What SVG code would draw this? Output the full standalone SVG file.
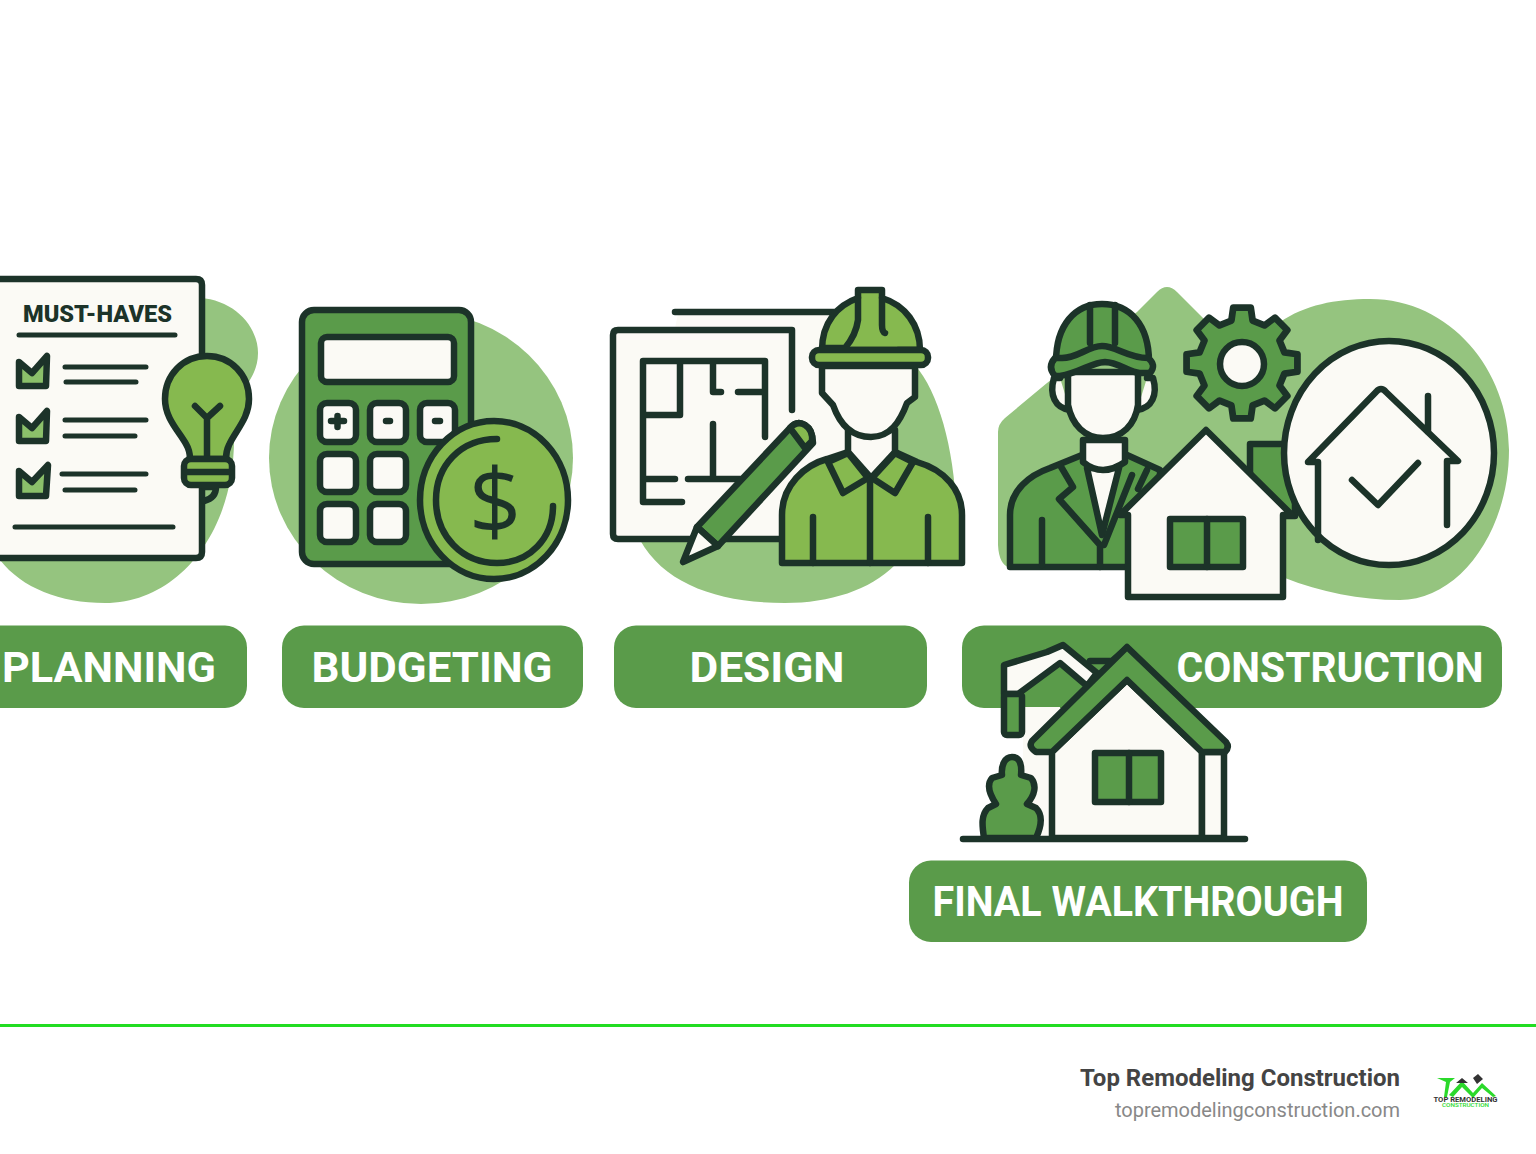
<svg xmlns="http://www.w3.org/2000/svg" width="1536" height="1154" viewBox="0 0 1536 1154">
<style>
.blob{fill:#95c47f}
.o{stroke:#1c3329;stroke-width:6.5;stroke-linejoin:round;stroke-linecap:round}
.l{fill:none;stroke:#1c3329;stroke-width:6.5;stroke-linejoin:round;stroke-linecap:round}
.t{fill:none;stroke:#1c3329;stroke-width:5;stroke-linecap:round}
.cream{fill:#fbfaf5}
.mid{fill:#5a9b4a}
.light{fill:#86b94f}
.pill{fill:#5a9b4a}
.lab{font-family:Roboto,"Liberation Sans",sans-serif;font-weight:700;font-size:42px;fill:#fff;text-anchor:middle}
</style>
<rect width="1536" height="1154" fill="#fff"/>

<g id="planning">
<path class="blob" d="M200 298C234 300 258 326 258 353C258 370 250 378 246 388L234 440C234 530 180 603 105 603C60 603 22 588 0 560V298Z"/>
<path class="o cream" d="M-6 279H196Q202 279 202 285V552Q202 558 196 558H-6Z"/>
<text x="97.500" y="322" font-family="Roboto,'Liberation Sans',sans-serif" font-weight="900" font-size="24" fill="#1c3329" text-anchor="middle" textLength="149" lengthAdjust="spacingAndGlyphs">MUST-HAVES</text>
<path class="t" d="M19 335H175M65 367H146M66 382H136M65 420H146M65 436H135M62 474H146M65 490H135M15 527H173"/>
<path class="o" fill="#8bc06a" d="M19 362L32 373L47 356L46 386H19Z"/>
<path class="o" fill="#8bc06a" d="M19 417L32 428L47 411L46 441H19Z"/>
<path class="o" fill="#8bc06a" d="M19 471L32 482L48 465L46 496H19Z"/>
<path class="o light" d="M207 356C231 356 249 375 249 399C249 418 236 430 229 445C226 451 226 456 226 459H190C190 454 189 449 186 444C178 430 165 418 165 399C165 375 183 356 207 356Z"/>
<path class="l" d="M195 406L207 418L220 406M207 418V458"/>
<path class="l" d="M204 487H216Q216 498 204 501"/>
<rect class="o light" x="184" y="459" width="48" height="26" rx="7"/>
<path class="l" d="M186 472H230"/>
</g>

<g id="budgeting">
<ellipse class="blob" cx="421" cy="458" rx="152" ry="146"/>
<rect class="o mid" x="302" y="310" width="169" height="254" rx="12"/>
<rect class="o cream" x="321" y="337" width="133" height="45" rx="6"/>
<rect class="o cream" x="320" y="403" width="36" height="39" rx="7"/>
<rect class="o cream" x="370" y="403" width="36" height="39" rx="7"/>
<rect class="o cream" x="420" y="403" width="35" height="39" rx="7"/>
<rect class="o cream" x="320" y="454" width="36" height="38" rx="7"/>
<rect class="o cream" x="370" y="454" width="36" height="38" rx="7"/>
<rect class="o cream" x="320" y="504" width="36" height="38" rx="7"/>
<rect class="o cream" x="370" y="504" width="36" height="38" rx="7"/>
<path class="l" d="M331 421H344M337.500 416V427M386 421H390M435 421H440"/>
<ellipse class="o light" cx="494" cy="500" rx="74" ry="79"/>
<path class="l" d="M497 439C460 439 436 466 436 500C436 536 462 563 497 563C530 563 553 538 553 506"/>
<text x="495" y="534" font-family="'Open Sans',Roboto,sans-serif" font-weight="400" font-size="92" fill="#1c3329" text-anchor="middle">$</text>
</g>

<g id="design">
<path class="blob" d="M640 540C665 585 720 603 785 603C830 603 870 590 895 565L955 565C962 480 945 400 915 365L720 330Z"/>
<path class="cream" d="M678 314H835V360H880V470H840V540H612V328H675Z"/>
<path class="l" d="M675 312H835"/>
<path class="l" d="M792 410V330H618Q613 330 613 335V534Q613 539 618 539H785"/>
<path class="l" d="M765 437V361H643V502H682M680 361V415H643M713 361V392H721M738 392H765M713 424V479M645 479H675M688 479H740"/>
<path class="o mid" d="M697 527L718 546L813 443Q813 430 805 425Q797 420 790 428Z"/>
<path class="o light" d="M790 428Q797 420 805 425Q813 430 812 441L805 448Z"/>
<path class="o cream" d="M697 527L718 546L683 562Z"/>
<path class="o light" d="M782 563V515C782 485 805 465 827 459L848 452L870 478L895 452L917 462C945 470 962 490 962 515V563Z"/>
<path class="o cream" d="M848 452V430H895V452L871 478Z"/>
<path class="o light" d="M828 462L848 453L868 478L843 493Z"/>
<path class="o light" d="M872 478L895 453L913 462L895 493Z"/>
<path class="l" d="M870 480V563M813 517V563M928 517V563"/>
<path class="o cream" d="M822 366V393L833 405C840 425 852 437 871 437C890 437 900 422 907 403L915 397V366Z"/>
<path class="o light" d="M822 350C822 322 838 305 858 298V290H882V298C905 305 920 325 920 350Z"/>
<path class="l" d="M858 298V320Q856 335 845 348H822M882 298V325Q882 332 885 333M898 350H920"/>
<rect class="o light" x="812" y="350" width="116" height="15" rx="7"/>
</g>

<g id="construction">
<path class="blob" d="M998 432V545Q999 565 1010 568H1285V578C1320 592 1360 600 1400 600C1460 600 1509 530 1509 450C1509 370 1450 299 1370 299C1335 299 1305 305 1280 322L1207 322L1177 292Q1167 282 1157 292L1137 312L1047 383L1005 418Q998 424 998 432Z"/>
<path class="o mid" d="M1010 567V515C1010 490 1030 475 1050 468L1082 455H1127L1160 470V567Z"/>
<path class="o cream" d="M1087 468L1102 535L1119 468Z"/>
<path class="o cream" d="M1083 440V462Q1102 478 1125 462V440Z"/>
<path class="l" d="M1060 465L1073 487L1059 499L1100 545V567M1132 475L1104 545M1147 470L1138 489M1042 520V565"/>
<path class="o cream" d="M1060 378H1054C1049 395 1055 408 1070 410M1147 378H1153C1158 395 1152 408 1137 410"/>
<path class="o cream" d="M1068 372V405C1072 425 1085 438 1103 438C1122 438 1135 425 1138 405V372Z"/>
<path class="o mid" d="M1056 362C1056 325 1075 304 1102 304C1130 304 1149 325 1149 362Z"/>
<path class="l" d="M1090 305V343M1115 305V343"/>
<path class="o mid" d="M1055 358H1062C1078 358 1088 346 1102 346C1116 346 1128 358 1148 358Q1157 365 1150 373H1140C1130 373 1118 362 1105 362C1092 362 1080 373 1060 376H1055Q1047 367 1055 358Z"/>
<polygon class="o mid" stroke-width="7" transform="translate(1242 363) scale(1.04)" points="40.8,-10.2 53.3,-8.400 53.3,8.400 40.8,10.200 36.100,21.600 43.600,31.700 31.700,43.600 21.600,36.100 10.200,40.800 8.400,53.300 -8.400,53.300 -10.200,40.800 -21.600,36.100 -31.700,43.600 -43.600,31.700 -36.100,21.600 -40.800,10.200 -53.300,8.400 -53.300,-8.400 -40.800,-10.200 -36.100,-21.600 -43.600,-31.700 -31.700,-43.600 -21.600,-36.100 -10.200,-40.800 -8.400,-53.300 8.400,-53.300 10.200,-40.800 21.600,-36.100 31.700,-43.600 43.600,-31.700 36.100,-21.600"/>
<circle class="o cream" cx="1242" cy="364" r="22"/>
<path class="o mid" d="M1250 444H1295V516H1250Z"/>
<path class="o cream" d="M1128 597V515H1120L1206 430L1292 515H1283V597Z"/>
<rect class="o mid" x="1170" y="519" width="73" height="48"/>
<path class="l" d="M1207 519V567"/>
<ellipse class="o cream" cx="1389" cy="453" rx="105" ry="112"/>
<path class="l" d="M1318 540V462H1308L1376 392Q1381 386 1386 392L1458 461H1447V525M1428 396V432"/>
<path class="l" stroke-width="8" d="M1352 480L1378 505L1418 463"/>
</g>

<g id="labels">
<rect class="pill" x="-40" y="625.500" width="287" height="82.500" rx="22"/>
<rect class="pill" x="282" y="625.500" width="301" height="82.500" rx="22"/>
<rect class="pill" x="614" y="625.500" width="313" height="82.500" rx="22"/>
<rect class="pill" x="962" y="625.500" width="540" height="82.500" rx="22"/>
<rect class="pill" x="909" y="860.500" width="458" height="81.500" rx="22"/>
<text class="lab" x="109" y="682" textLength="214" lengthAdjust="spacingAndGlyphs">PLANNING</text>
<text class="lab" x="432" y="682" textLength="241" lengthAdjust="spacingAndGlyphs">BUDGETING</text>
<text class="lab" x="767" y="682" textLength="155" lengthAdjust="spacingAndGlyphs">DESIGN</text>
<text class="lab" x="1330" y="682" textLength="307" lengthAdjust="spacingAndGlyphs">CONSTRUCTION</text>
<text class="lab" x="1138" y="916" textLength="411" lengthAdjust="spacingAndGlyphs">FINAL WALKTHROUGH</text>
</g>

<g id="final-walkthrough">
<path class="cream" d="M1023 707H1060V838H1023Z"/>
<path class="o cream" d="M1004 665L1047 652L1063 645L1097 673L1087 686L1060 663L1018 694H1004Z"/>
<rect class="o mid" x="1004" y="694" width="18" height="41" rx="3"/>
<path class="l" d="M1090 661H1112L1127 648"/>
<path class="cream o" d="M1052 752L1127 680L1202 752V838H1052Z"/>
<path class="o cream" d="M1202 752H1224V838H1202Z"/>
<path class="o mid" d="M1127 647L1226 742Q1230 747 1225 752H1202L1127 680L1052 752H1036Q1028 747 1032 741Z"/>
<rect class="o mid" x="1095" y="753" width="66" height="49"/>
<path class="l" d="M1129 753V802"/>
<path class="o mid" d="M984 838C982 825 981 815 988 808L996 804C990 795 986 785 992 778L1002 775C1001 765 1005 757 1012 757C1020 757 1022 765 1021 775L1031 778C1037 785 1035 795 1027 804L1036 808C1043 815 1042 825 1036 838Z"/>
<path class="l" d="M963 839H1245"/>
</g>

<g id="footer">
<path d="M0 1025.500H1536" stroke="#22dd22" stroke-width="3"/>
<text x="1400" y="1086" font-family="Roboto,sans-serif" font-weight="700" font-size="24" fill="#444" text-anchor="end" textLength="320" lengthAdjust="spacingAndGlyphs">Top Remodeling Construction</text>
<text x="1400" y="1117" font-family="Roboto,sans-serif" font-size="20" fill="#888" text-anchor="end" textLength="285" lengthAdjust="spacing">topremodelingconstruction.com</text>
</g>

<g id="logo">
<path d="M1437 1078H1455L1450 1082L1447 1097H1444L1446 1082Z" fill="#2bd92b"/>
<path d="M1449 1095L1462 1081L1473 1093L1482 1083L1496 1096L1493 1097L1482 1088L1473 1098L1462 1087L1453 1097Z" fill="#2bd92b"/>
<path d="M1456 1083L1462 1078L1468 1083ZM1473 1078L1478 1074L1483 1079L1477 1084Z" fill="#333"/>
<text x="1465.500" y="1101.500" font-family="Roboto,sans-serif" font-weight="700" font-size="7.500" fill="#333" text-anchor="middle" textLength="64" lengthAdjust="spacingAndGlyphs">TOP REMODELING</text>
<text x="1465.500" y="1107" font-family="Roboto,sans-serif" font-weight="500" font-size="5.500" fill="#2bd92b" text-anchor="middle" textLength="47" lengthAdjust="spacingAndGlyphs">CONSTRUCTION</text>
</g>
</svg>
